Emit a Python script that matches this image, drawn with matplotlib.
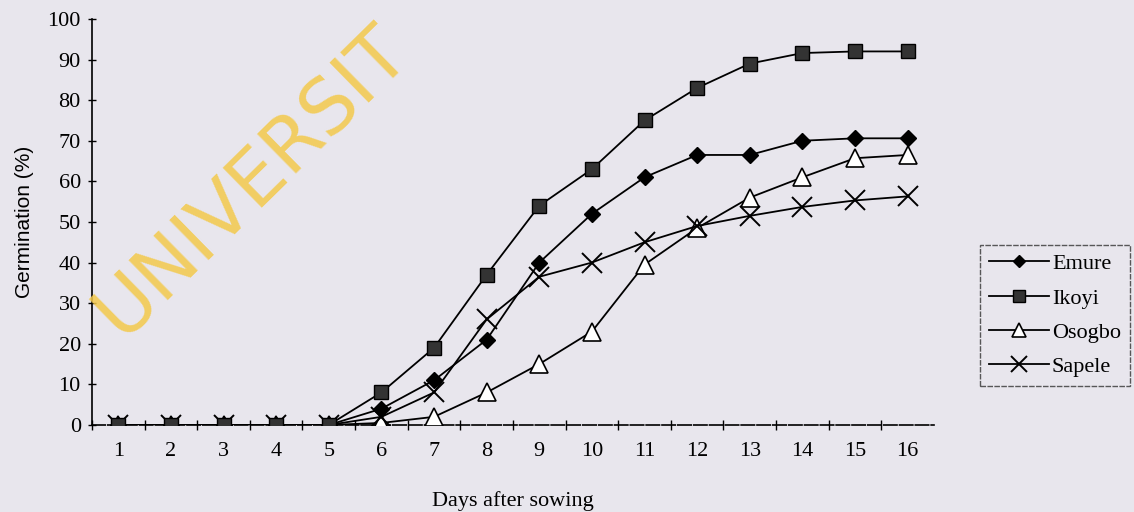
import matplotlib
matplotlib.use("Agg")
import matplotlib.pyplot as plt

days = list(range(1, 17))
emure = [0, 0, 0, 0, 0, 4, 11, 21, 40, 52, 61, 66.5, 66.5, 70, 70.6, 70.6]
ikoyi = [0, 0, 0, 0, 0, 8, 19, 37, 54, 63, 75, 83, 89, 91.6, 92, 92]
osogbo = [0, 0, 0, 0, 0, 0.5, 2, 8, 15, 23, 39.5, 48.5, 56, 61, 65.7, 66.5]
sapele = [0, 0, 0, 0, 0, 2, 8, 26, 36.5, 40, 45, 49, 51.5, 53.7, 55.3, 56.3]
series_names = ["Emure", "Ikoyi", "Osogbo", "Sapele"]

bg = "#e8e6ed"
plt.rcParams["font.family"] = ["Liberation Serif", "DejaVu Serif"]

fig = plt.figure(figsize=(11.34, 5.12), dpi=100, facecolor=bg)
ax = fig.add_axes([0.0811, 0.170, 0.7425, 0.793])
ax.set_facecolor(bg)

lw = 1.3
ax.plot(days, emure, color="black", lw=lw, marker="D", ms=8, mfc="black", mec="black", label=series_names[0], zorder=4)
ax.plot(days, ikoyi, color="black", lw=lw, marker="s", ms=10, mfc="#333333", mec="black", label=series_names[1], zorder=4)
ax.plot(days, osogbo, color="black", lw=lw, marker="^", ms=13, mfc="white", mec="black", mew=1.2, label=series_names[2], zorder=3)
ax.plot(days, sapele, color="black", lw=lw, marker="x", ms=15, mec="black", mew=1.4, label=series_names[3], zorder=3)

ax.set_xlim(0.5, 16.5)
ax.set_ylim(0, 100)
ax.set_yticks(range(0, 101, 10))
ax.set_xticks(days)
ax.set_xticks([d + 0.5 for d in range(0, 16)], minor=True)
ax.tick_params(axis="x", which="major", length=0, pad=12, labelsize=16)
ax.tick_params(axis="x", which="minor", length=7, direction="inout", width=1)
ax.tick_params(axis="y", which="major", length=6, direction="inout", width=1, labelsize=16, pad=5)

for s in ["top", "right"]:
    ax.spines[s].set_visible(False)
ax.spines["left"].set_linewidth(1.2)
ax.spines["bottom"].set_linewidth(1.2)
ax.spines["bottom"].set_linestyle((0, (8, 1.5)))
ax.spines["bottom"].set_position(("data", 0))

ax.set_ylabel("Germination (%)", fontsize=15, labelpad=10, family=["Liberation Sans", "DejaVu Sans"])
ax.set_xlabel("Days after sowing", fontsize=16, labelpad=22)

leg = fig.legend(loc="upper left", bbox_to_anchor=(0.864, 0.522), bbox_transform=fig.transFigure,
                 fontsize=16, frameon=True, fancybox=False, handlelength=2.7, handletextpad=0.15,
                 labelspacing=0.62, borderpad=0.4, borderaxespad=0, markerscale=0.8)
leg.get_frame().set_edgecolor("#333333")
leg.get_frame().set_facecolor(bg)
leg.get_frame().set_linewidth(1.0)
leg.get_frame().set_linestyle((0, (4, 1)))

fig.text(0.222, 0.645, "UNIVERSIT", fontsize=55, color="#f3c94a", alpha=0.85,
         rotation=44.5, ha="center", va="center", family="DejaVu Sans", zorder=10)

fig.savefig("out.png", dpi=100, facecolor=bg)
